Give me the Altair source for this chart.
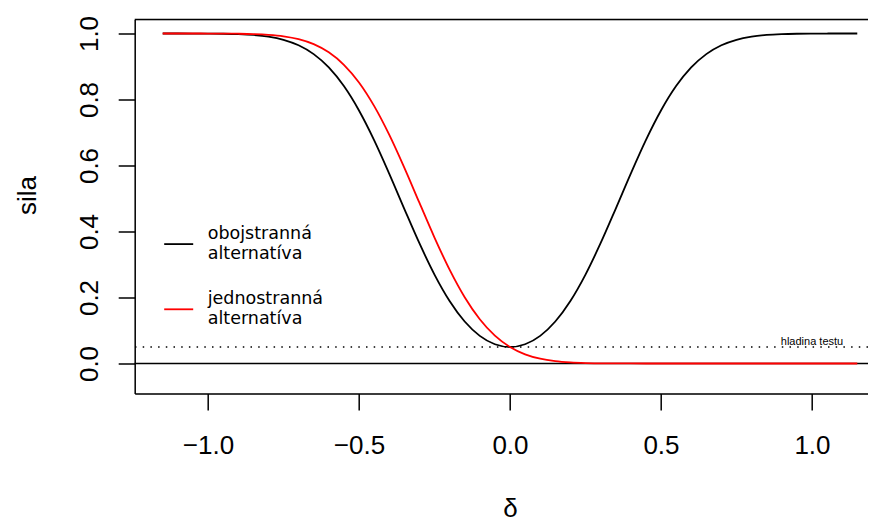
import altair as alt
import pandas as pd

# values
delta = [-1.15, -1.10, -1.05, -1.00, -0.95, -0.90, -0.85, -0.80, -0.75, -0.70,
         -0.65, -0.60, -0.55, -0.50, -0.45, -0.40, -0.35, -0.30, -0.25, -0.20,
         -0.15, -0.10, -0.05, 0.00, 0.05, 0.10, 0.15, 0.20, 0.25, 0.30,
         0.35, 0.40, 0.45, 0.50, 0.55, 0.60, 0.65, 0.70, 0.75, 0.80,
         0.85, 0.90, 0.95, 1.00, 1.05, 1.10, 1.15]

power_two_sided = [1.0000, 1.0000, 0.9999, 0.9997, 0.9992, 0.9980, 0.9955, 0.9904, 0.9809, 0.9643,
                   0.9375, 0.8972, 0.8406, 0.7667, 0.6770, 0.5755, 0.4688, 0.3645, 0.2695, 0.1894,
                   0.1272, 0.0837, 0.0583, 0.0500, 0.0583, 0.0837, 0.1272, 0.1894, 0.2695, 0.3645,
                   0.4688, 0.5755, 0.6770, 0.7667, 0.8406, 0.8972, 0.9375, 0.9643, 0.9809, 0.9904,
                   0.9955, 0.9980, 0.9992, 0.9997, 0.9999, 1.0000, 1.0000]

power_one_sided = [1.0000, 1.0000, 1.0000, 0.9999, 0.9997, 0.9993, 0.9983, 0.9960, 0.9915, 0.9829,
                   0.9678, 0.9430, 0.9052, 0.8516, 0.7806, 0.6934, 0.5936, 0.4872, 0.3817, 0.2844,
                   0.2009, 0.1341, 0.0844, 0.0500, 0.0278, 0.0145, 0.0071, 0.0033, 0.0014, 0.0006,
                   0.0002, 0.0001, 0.0000, 0.0000, 0.0000, 0.0000, 0.0000, 0.0000, 0.0000, 0.0000,
                   0.0000, 0.0000, 0.0000, 0.0000, 0.0000, 0.0000, 0.0000]

series_names = ["obojstranná alternatíva", "jednostranná alternatíva"]
series_colors = ["#000000", "#ff0000"]

x_ticks = [-1.0, -0.5, 0.0, 0.5, 1.0]
y_ticks = [0.0, 0.2, 0.4, 0.6, 0.8, 1.0]

x_domain = [-1.2427, 1.1855]
y_domain = [-0.0909, 1.0424]

level = 0.05
level_label = "hladina testu"
level_label_x = 1.0

df_two = pd.DataFrame({"delta": delta, "power": power_two_sided, "series": series_names[0]})
df_one = pd.DataFrame({"delta": delta, "power": power_one_sided, "series": series_names[1]})

FONT = "Liberation Sans"

x_enc = alt.X(
    "delta:Q",
    scale=alt.Scale(domain=x_domain, nice=False, zero=False),
    axis=alt.Axis(
        values=x_ticks, format=".1f", grid=False,
        tickSize=16.5, tickWidth=1.5, tickColor="black",
        domainColor="black", domainWidth=1.5,
        labelFont=FONT, labelFontSize=26, labelColor="black",
        labelPadding=43.5, labelBaseline="alphabetic", labelAlign="center",
        labelFlush=False, labelOverlap=False,
        title="δ", titleFont=FONT, titleFontSize=26, titleFontWeight="normal",
        titleColor="black", titleX=375.3, titleY=122.5,
        titleBaseline="alphabetic", titleAlign="center", titleAngle=0,
    ),
)
y_enc = alt.Y(
    "power:Q",
    scale=alt.Scale(domain=y_domain, nice=False, zero=False),
    axis=alt.Axis(
        values=y_ticks, format=".1f", grid=False,
        tickSize=16.5, tickWidth=1.5, tickColor="black",
        domainColor="black", domainWidth=1.5,
        labelFont=FONT, labelFontSize=26, labelColor="black",
        labelAngle=270, labelAlign="center", labelBaseline="alphabetic",
        labelPadding=21.2, labelFlush=False, labelOverlap=False,
        title="sila", titleFont=FONT, titleFontSize=26, titleFontWeight="normal",
        titleColor="black", titleX=-99.7, titleY=175.5, titleAngle=270,
        titleBaseline="alphabetic", titleAlign="center",
    ),
)
color_enc = alt.Color(
    "series:N",
    scale=alt.Scale(domain=series_names, range=series_colors),
    legend=alt.Legend(
        orient="none", legendX=28.5, legendY=209.1, title=None,
        symbolType="stroke", symbolSize=841, symbolStrokeWidth=1.8,
        labelFont="DejaVu Sans", labelFontSize=17.5, labelBaseline="line-bottom",
        labelColor="black", labelExpr="split(datum.label, ' ')",
        labelOffset=13.5, rowPadding=27.2, padding=0, labelLimit=400,
    ),
)

line_two = alt.Chart(df_two).mark_line(strokeWidth=1.8, interpolate="monotone").encode(
    x=x_enc, y=y_enc, color=color_enc)
line_one = alt.Chart(df_one).mark_line(strokeWidth=1.8, interpolate="monotone").encode(
    x="delta:Q", y="power:Q", color="series:N")

zero_rule = alt.Chart(pd.DataFrame({"v": [0.0]})).mark_rule(
    color="black", strokeWidth=1.5).encode(y="v:Q")
level_rule = alt.Chart(pd.DataFrame({"v": [level]})).mark_rule(
    color="black", strokeWidth=1.5, strokeDash=[1.5, 6.2]).encode(y="v:Q")
top_rule = alt.Chart(pd.DataFrame({"v": [y_domain[1]]})).mark_rule(
    color="black", strokeWidth=1.5).encode(y="v:Q")
level_text = alt.Chart(pd.DataFrame({"x": [level_label_x], "y": [level], "t": [level_label]})).mark_text(
    font=FONT, fontSize=11, baseline="alphabetic", align="center", dy=-2.5, color="black"
).encode(x="x:Q", y="y:Q", text="t:N")

chart = alt.layer(
    zero_rule, level_rule, top_rule, level_text, line_two, line_one
).properties(
    width=733.3, height=374,
    autosize=alt.AutoSizeParams(type="none"),
    padding={"left": 126.7, "top": 11.5, "right": 0, "bottom": 123.5},
).configure_view(strokeWidth=0).configure(background="white")

chart.save("out.html", embed_options={"renderer": "svg", "actions": False})
